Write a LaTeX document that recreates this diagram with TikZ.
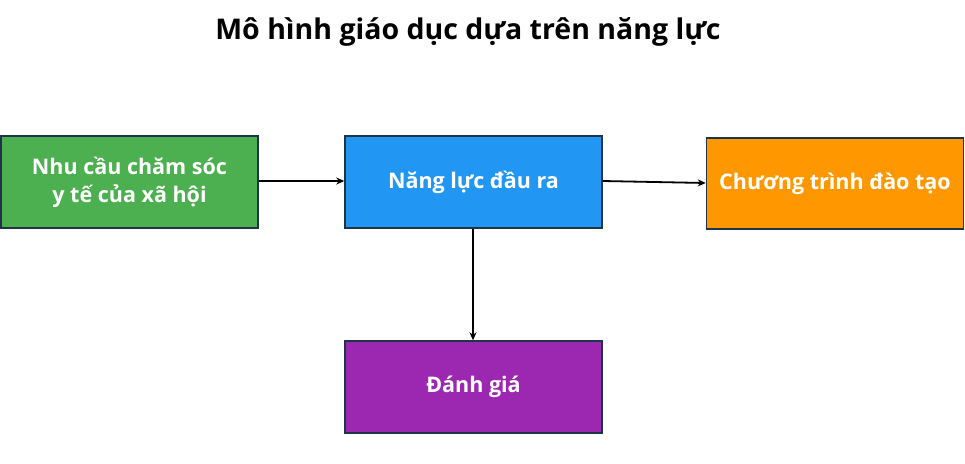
\documentclass[tikz,border=0pt]{standalone}
\usepackage{fontspec}
\setmainfont{Open Sans}
\usetikzlibrary{arrows.meta}
\definecolor{cgreen}{HTML}{4CAF50}
\definecolor{cblue}{HTML}{2196F3}
\definecolor{corange}{HTML}{FF9800}
\definecolor{cpurple}{HTML}{9C27B0}
\definecolor{cborder}{HTML}{1F3448}
\tikzset{
  box/.style={draw=cborder, line width=1.5pt, minimum width=257pt, minimum height=92pt,
    inner sep=0pt, align=center, text=white, font=\fontsize{21.5}{28}\selectfont\bfseries},
  conn/.style={line width=1.8pt, -{Stealth[length=8pt,width=7pt]}}
}
\begin{document}
\begin{tikzpicture}[x=1pt,y=-1pt]
\useasboundingbox (0,0) rectangle (965,463);
\node[font=\fontsize{28.5}{32}\selectfont\bfseries] (title) at (468,32) {Mô hình giáo dục dựa trên năng lực};
\node[box, fill=cgreen] (nhu) at (129.5,182) {Nhu cầu chăm sóc\\y tế của xã hội};
\node[box, fill=cblue] (nang) at (473.5,182) {Năng lực đầu ra};
\node[box, fill=corange, minimum height=91pt] (ct) at (835,183.5) {Chương trình đào tạo};
\node[box, fill=cpurple] (dg) at (473.5,387) {Đánh giá};
\coordinate (ctin) at (ct.west |- 0,183);
\draw[conn] (nhu.east |- 0,181) -- (nang.west |- 0,181);
\draw[conn] (nang.east |- 0,181) -- (ctin);
\draw[conn] (nang.south -| 473,0) -- (dg.north -| 473,0);
\end{tikzpicture}
\end{document}
